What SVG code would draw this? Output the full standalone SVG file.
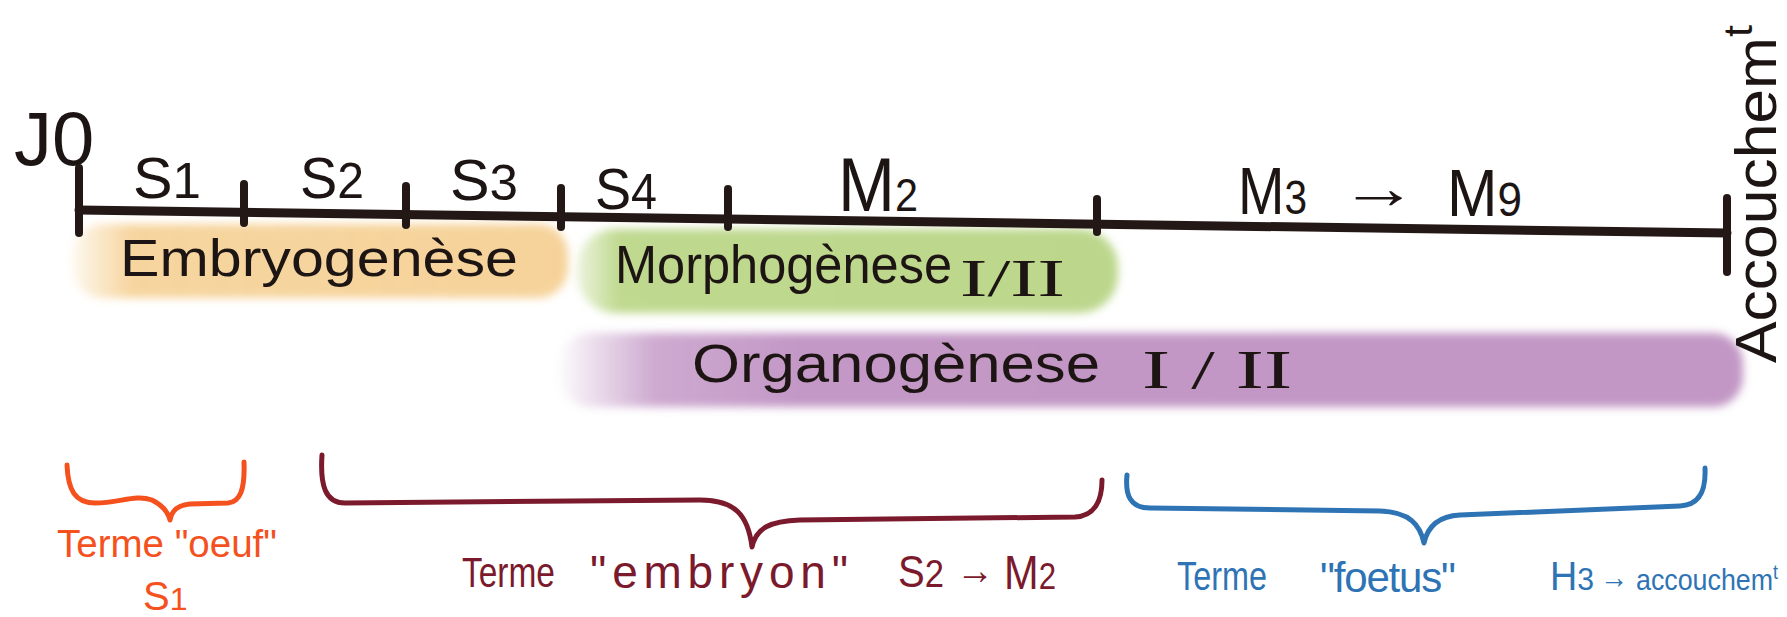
<svg xmlns="http://www.w3.org/2000/svg" width="1787" height="617" viewBox="0 0 1787 617">
  <defs>
    <style>
      .hand{font-family:"Liberation Sans",Arial,sans-serif;}
      .serif{font-family:"Liberation Serif","Times New Roman",serif;}
      .ink{fill:#1d1513;}
      .axis{stroke:#241816;stroke-width:9;stroke-linecap:round;fill:none;}
      .tick{stroke:#241816;stroke-width:8;stroke-linecap:round;}
      .brace{fill:none;stroke-width:5;stroke-linecap:round;stroke-linejoin:round;}
      .band{filter:url(#soft);}
      .oeuf{fill:#f4511e;}
      .emb{fill:#7b1a2c;}
      .foe{fill:#2e74b5;}
    </style>
    <filter id="soft" x="-5%" y="-40%" width="110%" height="180%">
      <feGaussianBlur stdDeviation="4"/>
    </filter>
    <linearGradient id="gOrange" x1="0" y1="0" x2="1" y2="0">
      <stop offset="0" stop-color="#f6d39a" stop-opacity="0.15"/>
      <stop offset="0.12" stop-color="#f6d39a" stop-opacity="0.95"/>
      <stop offset="1" stop-color="#f6d39a"/>
    </linearGradient>
    <linearGradient id="gGreen" x1="0" y1="0" x2="1" y2="0">
      <stop offset="0" stop-color="#bfd98f" stop-opacity="0.3"/>
      <stop offset="0.08" stop-color="#bfd98f"/>
      <stop offset="1" stop-color="#bcd78c"/>
    </linearGradient>
    <linearGradient id="gPurple" x1="0" y1="0" x2="1" y2="0">
      <stop offset="0" stop-color="#c59bc8" stop-opacity="0.05"/>
      <stop offset="0.08" stop-color="#c59bc8" stop-opacity="0.85"/>
      <stop offset="0.2" stop-color="#c398c6"/>
      <stop offset="1" stop-color="#c297c5"/>
    </linearGradient>
  </defs>

  <rect x="0" y="0" width="1787" height="617" fill="#ffffff"/>

  <!-- coloured period bands -->
  <g id="band-embryogenese">
    <rect class="band" x="72" y="224" width="496" height="74" rx="30" fill="url(#gOrange)"/>
    <text class="hand ink" x="120" y="276" font-size="52" textLength="398" lengthAdjust="spacingAndGlyphs">Embryogenèse</text>
  </g>
  <g id="band-morphogenese">
    <rect class="band" x="577" y="229" width="541" height="84" rx="38" fill="url(#gGreen)"/>
    <text class="hand ink" x="615" y="283" font-size="54" textLength="337" lengthAdjust="spacingAndGlyphs">Morphogènese</text>
    <text class="serif ink" x="960" y="296" font-size="52" textLength="105" lengthAdjust="spacingAndGlyphs">I/II</text>
  </g>
  <g id="band-organogenese">
    <rect class="band" x="560" y="333" width="1183" height="74" rx="30" fill="url(#gPurple)"/>
    <text class="hand ink" x="692" y="382" font-size="54" textLength="408" lengthAdjust="spacingAndGlyphs">Organogènese</text>
    <text class="serif ink" x="1142" y="388" font-size="54" textLength="150" lengthAdjust="spacingAndGlyphs">I / II</text>
  </g>

  <!-- timeline axis -->
  <g id="timeline">
    <line class="axis" x1="79" y1="210" x2="1727" y2="233"/>
    <line class="tick" x1="79" y1="168" x2="79" y2="233"/>
    <line class="tick" x1="244" y1="184" x2="244" y2="223"/>
    <line class="tick" x1="406" y1="186" x2="406" y2="225"/>
    <line class="tick" x1="561" y1="188" x2="561" y2="227"/>
    <line class="tick" x1="728" y1="189" x2="728" y2="227"/>
    <line class="tick" x1="1097" y1="199" x2="1097" y2="232"/>
    <line class="tick" x1="1727" y1="198" x2="1727" y2="272"/>
  </g>

  <g id="label-j0">
    <text class="hand ink" x="14" y="165" font-size="76">J0</text>
  </g>
  <g id="label-s1"><text class="hand ink" x="133" y="198" font-size="58" textLength="68" lengthAdjust="spacingAndGlyphs">S<tspan font-size="50">1</tspan></text></g>
  <g id="label-s2"><text class="hand ink" x="300" y="198" font-size="58" textLength="64" lengthAdjust="spacingAndGlyphs">S<tspan font-size="50">2</tspan></text></g>
  <g id="label-s3"><text class="hand ink" x="450" y="200" font-size="58" textLength="68" lengthAdjust="spacingAndGlyphs">S<tspan font-size="50">3</tspan></text></g>
  <g id="label-s4"><text class="hand ink" x="595" y="209" font-size="58" textLength="62" lengthAdjust="spacingAndGlyphs">S<tspan font-size="50">4</tspan></text></g>
  <g id="label-m2"><text class="hand ink" x="838" y="211" font-size="76" textLength="80" lengthAdjust="spacingAndGlyphs">M<tspan font-size="46">2</tspan></text></g>
  <g id="label-m3-m9">
    <text class="hand ink" x="1238" y="214" font-size="66" textLength="69" lengthAdjust="spacingAndGlyphs">M<tspan font-size="48">3</tspan></text>
    <text class="hand ink" x="1340" y="208" font-size="60" textLength="78" lengthAdjust="spacingAndGlyphs">→</text>
    <text class="hand ink" x="1447" y="216" font-size="66" textLength="75" lengthAdjust="spacingAndGlyphs">M<tspan font-size="48">9</tspan></text>
  </g>
  <g id="label-accouchement">
    <text class="hand ink" transform="translate(1776,363) rotate(-90)" font-size="58" textLength="338" lengthAdjust="spacingAndGlyphs">Accouchem<tspan font-size="40" dy="-24">t</tspan></text>
  </g>

  <!-- braces -->
  <g id="connectors">
    <path class="brace" stroke="#f4511e" d="M67,465 C68,490 75,503 95,503 C120,503 135,494 152,500 C162,505 168,512 170,520 C172,510 178,505 190,504 L228,503 C240,502 245,490 244,462"/>
    <path class="brace" stroke="#7b1a2c" d="M322,455 C320,485 325,503 345,503 L700,500 C735,500 748,515 752,547 C756,528 770,521 800,520 L1075,517 C1095,516 1102,500 1102,480"/>
    <path class="brace" stroke="#2e74b5" stroke-width="4" d="M1127,475 C1125,495 1130,508 1150,508 L1380,511 C1410,512 1420,525 1424,543 C1428,525 1440,516 1460,515 L1680,506 C1700,505 1706,490 1705,468"/>
  </g>

  <g id="label-oeuf">
    <text class="hand oeuf" x="57" y="557" font-size="38" textLength="220" lengthAdjust="spacingAndGlyphs">Terme "oeuf"</text>
    <text class="hand oeuf" x="143" y="610" font-size="40">S<tspan font-size="32">1</tspan></text>
  </g>
  <g id="label-embryon">
    <text class="hand emb" x="462" y="587" font-size="42" textLength="93" lengthAdjust="spacingAndGlyphs">Terme</text>
    <text class="hand emb" x="590" y="588" font-size="46" textLength="258" lengthAdjust="spacing">"embryon"</text>
    <text class="hand emb" x="898" y="587" font-size="44" textLength="46" lengthAdjust="spacingAndGlyphs">S<tspan font-size="38">2</tspan></text>
    <text class="hand emb" x="956" y="584" font-size="40" textLength="38" lengthAdjust="spacingAndGlyphs">→</text>
    <text class="hand emb" x="1004" y="589" font-size="48" textLength="52" lengthAdjust="spacingAndGlyphs">M<tspan font-size="36">2</tspan></text>
  </g>
  <g id="label-foetus">
    <text class="hand foe" x="1177" y="590" font-size="40" textLength="90" lengthAdjust="spacingAndGlyphs">Terme</text>
    <text class="hand foe" x="1320" y="592" font-size="42" textLength="136" lengthAdjust="spacing">"foetus"</text>
    <text class="hand foe" x="1550" y="590" font-size="40" textLength="44" lengthAdjust="spacingAndGlyphs">H<tspan font-size="32">3</tspan></text>
    <text class="hand foe" x="1600" y="588" font-size="32" textLength="28" lengthAdjust="spacingAndGlyphs">→</text>
    <text class="hand foe" x="1636" y="590" font-size="30" textLength="142" lengthAdjust="spacingAndGlyphs">accouchem<tspan font-size="20" dy="-11">t</tspan></text>
  </g>
</svg>
